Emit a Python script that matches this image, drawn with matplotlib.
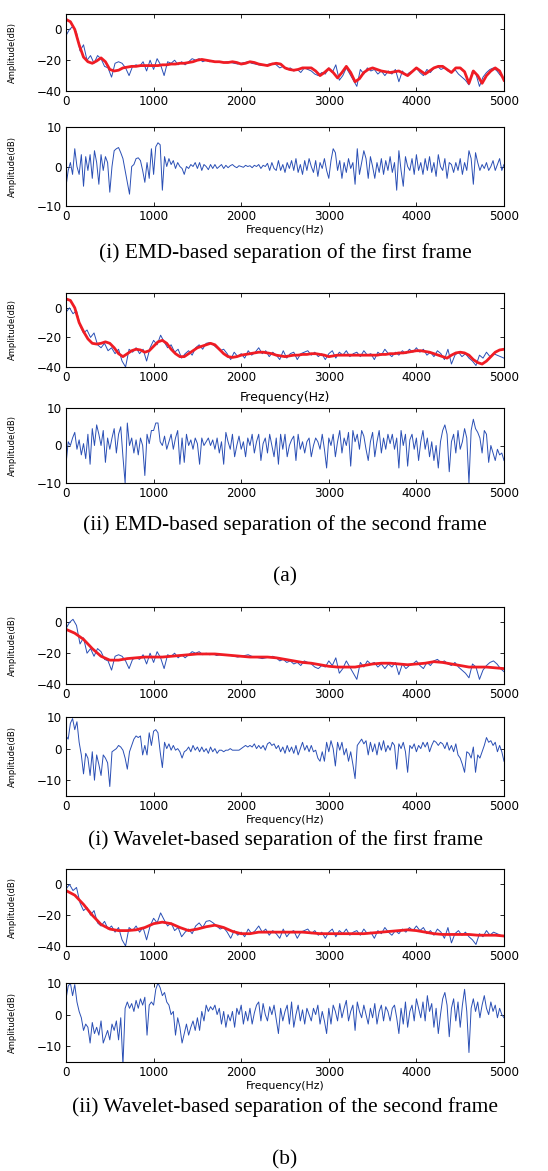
import numpy as np
import matplotlib
matplotlib.use("Agg")
import matplotlib.pyplot as plt

# ---------------- data ----------------
# frame 1 spectrum (dB), 40 Hz spacing 0..5000
spec_frame1 = [-4, 0, 2, -2, -14, -10, -20, -17, -22, -17, -19, -24, -25, -31, -22, -21, -22, -25, -30, -24,
               -23, -24, -21, -27, -20, -26, -19, -23, -30, -21, -22, -20, -23, -21, -23, -21, -19, -20, -19, -21,
               -20, -21, -20.5, -21.5, -21, -21.5, -21, -21.5, -22, -22.5, -22, -21.5, -21, -22, -22.5, -23, -23.5, -23, -22.5, -22,
               -23, -25, -24, -26, -25, -27, -26, -28, -25, -26, -27, -29, -30, -28, -29, -25, -28, -23, -33, -30,
               -25, -29, -33, -37, -26, -29, -25, -27, -26, -29, -27, -30, -27, -29, -26, -34, -27, -30, -28, -27,
               -25, -28, -30, -26, -28, -25, -24, -26, -25, -27, -28, -26, -29, -31, -33, -36, -27, -29, -37, -31,
               -28, -26, -25, -27, -30, -32]
# frame 2 spectrum (dB), 40 Hz spacing 0..5000
spec_frame2 = [-3, 0, -4, -2, -12, -17, -15, -20, -17, -25, -27, -24, -29, -27, -31, -28, -36, -40, -28, -30,
               -27, -31, -28, -36, -27, -22, -25, -18.5, -23, -27, -25, -30, -28, -34, -31, -29, -32, -27, -25, -28,
               -24, -23.5, -25, -27, -29, -28, -31, -35, -30, -33, -31, -34, -29, -32, -30, -27, -31, -29, -33, -30,
               -32, -35, -29, -34, -31, -30, -35, -31, -30, -29, -32, -30, -33, -31, -35, -31, -29, -34, -30, -32,
               -29, -33, -31, -30, -33, -29, -32, -31, -35, -30, -32, -28, -31, -33, -30, -32, -29, -31, -28, -30,
               -27, -30, -28, -32, -30, -33, -29, -31, -35, -28, -38, -32, -30, -33, -31, -34, -36, -39, -32, -34,
               -30, -33, -31, -32, -33, -34]

# EMD envelope, frame 1 (50 Hz spacing)
emd_env1 = [6.5, 5, 0, -10, -18, -21, -22, -20.5, -18.5, -21, -26, -27, -26.5, -25, -24.5, -24, -24, -23.5, -23.5, -23.5,
            -23.5, -23.5, -23, -23, -22.5, -22.5, -22, -22, -21.5, -21, -20, -19.5, -20, -20.5, -21, -21, -21.5, -21.5, -21, -21.5,
            -22.5, -22, -21, -21.5, -22.5, -23, -23.5, -22.5, -22, -22.5, -25, -26, -26.5, -26, -25, -25, -25, -27, -30, -28,
            -25.5, -28, -31.5, -28, -24, -28, -34, -32, -28, -26, -25, -26, -27, -27.5, -28, -27.5, -27, -28.5, -30, -27.5,
            -25, -27, -29, -27, -25, -24, -24, -26, -28, -25, -25, -27.5, -35, -27, -30, -35, -30, -27, -25, -27, -33]
# EMD envelope, frame 2 (50 Hz spacing)
emd_env2 = [6, 5, 0, -10, -16, -21, -24, -24.5, -24, -23, -24, -27, -31, -33, -31, -29, -28, -28.5, -30, -29,
            -26, -23, -22, -24, -28, -31, -33, -33, -31, -29, -27, -26, -25, -24, -25, -28, -31, -33, -33.5, -33,
            -32, -31.5, -31, -30.5, -30, -30, -30.5, -31, -32, -32.5, -33, -32.5, -32, -32, -31.5, -31.5, -31, -31, -31.5, -32,
            -33, -32.5, -32, -32, -32, -32, -32, -32, -32, -32, -32, -32, -31.5, -31.5, -31, -31, -30.5, -30.5, -30, -29.5,
            -29, -29, -29.5, -30, -31, -32, -33, -34, -32, -30.5, -30, -30.5, -32, -35, -37, -38, -36, -33, -30, -28.5, -28]
# Wavelet envelopes (100 Hz spacing)
wav_env1 = [-4.5, -7, -11, -17, -22, -24.5, -24.5, -23.5, -23, -22.5, -22.5, -22.5, -22, -21.5, -21, -20.5, -20.5, -20.5,
            -21, -21.5, -22, -22.5, -22.5, -22.5, -23, -24, -25, -26, -26.5, -27.5, -28.5, -29, -29, -29, -28, -27,
            -26.5, -26.5, -27, -27.5, -27, -26.5, -25.5, -26, -27, -28, -29, -29, -29, -29.5, -30]
wav_env2 = [-4, -7, -13, -20, -26, -29, -30, -30, -29.5, -28, -25.5, -24.5, -25.5, -28, -30, -29, -27.5, -26.5,
            -28, -30.5, -32, -32, -31, -31, -31, -31, -31, -31, -31.5, -32, -32, -32, -32, -32, -32, -31.5,
            -31, -30.5, -30, -29.5, -30, -31, -32, -32.5, -32.5, -32.5, -32.5, -33, -33, -33, -33.5]

# residuals (dB), 25 Hz spacing
emd_res1 = [-5, -1, 1, -2, 4.5, 0, -2, 3, -5, 2.5, -1, 3, -3, 4, 1, -4.5, 3, -1, 2.5, 1,
            -6.5, 0, 4, 4.5, 4.8, 3.5, 2, -1, -4, -7, 0, 0.5, 2, 2.2, 1.5, -1, -4, 1, -3, 4.5,
            -2, 5, 6, 5.5, -6, 2.5, 0, 2, 0.5, 1.5, -0.5, 1, 0, -0.5, -2, 0, -0.5, 0.5, 0, 1,
            -0.5, 1, -1, 0.5, 0, -0.8, 0.5, -0.5, 0.5, -0.5, 0, 0.5, -0.5, 0.3, -0.3, 0.2, 0.5, 0, -0.3, 0.2,
            0, -0.2, 0.3, 0, 0.2, -0.3, 0.3, 0, 0.5, -0.5, 0.3, 0, 0.8, -1, 1, -0.5, -1, 1.5, -1, 0.5,
            -1.5, 1, -0.5, 1.5, -1, 2, -1.5, 0.5, -2, 1.5, -1, 2, 0, -1.5, 1.5, -2.5, 1, -0.5, 2, -1,
            -3, 1.5, 4.5, 3.5, -1, 1.5, -3, 1, -1.5, 2, -0.5, 1, -4.5, 4.5, -2, 1, 4, 2, -3, 2.5,
            0, -3, 1, -1.5, 2, -2, 1.5, -1, 2.5, -1.5, 1, -6, 4, -1, -5, 2.5, 0, -1, 2, -2,
            3, -1, 1, -2, 2, -1, 2.5, -1.5, 1, -2.5, 3, 0, -1, 2, -3, 1, 0.5, -1.5, 1, -1,
            2, -2, 1, -1, 4, 2, -4.5, 3.5, 1, -1, 0.5, -0.5, 1, -1, 0, 1.5, -1, 0.5, 2, -1, 0.5]
emd_res2 = [-5, 1, 0, 2, 3.5, -1, 1.5, -2.5, 0.5, -3.5, 3, -5, 4.5, 0, 5.5, 3, 0, 4, -4.5, 2,
            -1, 2, 4.5, -2, 3, 5, -3, -10, 6, 0, 2, -2, 1.5, -2.5, 2, 0, -8, 3, 0.5, 4,
            4, 6, 6, 1, 0, 2.5, -1, 1, 3, -1, 2, 4, -5, 2, -4.5, 3, 0, 1.5, -1, 2,
            0.5, -5, 2, 0, 1, 2, 0, 1.5, -1, 2, -2, 1, -5, 3.5, 1, -1, 3, -3, 0, 2.5,
            -1, 1, -3, 2, 0, 3, -2, 1, 3, -4, 0.5, 2, -2, 3, 0, -3, 2, -5, 3, -1,
            3, -3, 0, 1.5, 2.5, -4, 3, -1, 1, -2, 1, 2, -3, 0, 2, 1, -1, 3, -1, -6,
            2, 0, 3, -3, 1, 4, -2, 2, 0, 3.5, -5.5, 4, 1, 3, -1, 4, 2.5, -1, -4, 1,
            3.5, -3, 1, 4, -2, 2, -1, 3, 0.5, 3, -1, 2, -6, 4, 0, 3, -5.5, 1.5, 3, -1,
            2, -4, 1, 4, -1, 2, -3, 1, -4, 0, -6, 1, 4, 5.5, 3, -7, 1, 3, -2, 4,
            -1, 1, 4.5, 2, -10, 4, 7, 4.5, 3.5, 2, -2, 4, 3, -4.5, 0, -2, -4, -1, -2.5, -2, -4]
wav_res1 = [4, 3, 8, 9.5, 6, 8.5, 2, -2, -8, -1.5, -3, -8.5, -1, -10, -2, -5, -8.5, -2, -3, -4.5,
            -12, -1, -0.5, 0, 1, 0.5, -0.5, -3, -6.5, -1, 1, 3, 4, 3.5, 4, -2, 1, -2, 5, 1,
            5.5, 6, 5, -1, -6, 2, 0, 1.5, -0.5, 1, -0.5, 0, -1, -3, -1, -0.5, 0.5, -1, 1, -0.5,
            0.5, -1, 0.5, -1, 0, -1.5, 0.5, -1, 0, -1.5, -0.5, -0.5, -1, -0.5, -0.5, 0, -0.5, -0.5, -0.5, -0.5,
            0, 0.5, 1, 0.5, 1, 0.5, 1.5, 0, 1, 0, 1, -0.5, 1.5, 2, 1, 1.5, 0, 1, -1, 0.5,
            -1.5, 1, -1, 0.5, -1.5, 1, -2, 0, 2, -0.5, 1, -1, 1, -1, -0.5, -3, -4, -1, -4, 2,
            -1, 2.5, 0, -5.5, 2, -0.5, 2, -2, 0, -4, -1, -5, -9.5, 1, 2, 3, 1.5, 2.5, -2, 2,
            -1, 1.5, -2, 2, -0.5, 2.5, -1, 1, -0.5, 2, 1, -6.5, 1.5, 0, 2, -1, -7.5, 1, 0, 1.5,
            -1, 1, 0, 2, 0.5, 2, -1, 1, 2.5, 2, 1, 2, 1.5, 0, 2, -0.5, 1, -1, 1.5, -2,
            -3, -5, -7.5, -1, -1.5, -3, 0.5, -7.5, -2, -3, -1, 1, 3.5, 2, 2.5, 1, 2, -1, 1, -1, -4]
wav_res2 = [5, 9, 10, 6, 9.5, 4, 1, -1, -5, -3, -4, -9, -2.5, -6, -4, -6.5, -2, -9, -7, -5,
            -8, -3, -5, -2, -8, -1, -16, 2, 4, 2, 3.5, 1, 4.5, 2, 5, 3, 5.5, -6.5, 3, 4,
            3, 8, 10, 8.5, 6, 7, 4, 3, 0, 1, -6.5, -1, -4, -9, -6, -3, -6.5, -4, -2, -5,
            -1, -5, 1, -2, 3, 1, 2.5, 1.5, 3, 0, 2, -3, 1, -4, 0, -2, 1, -4, 2, 0,
            3, -3, 1, -2, 2, -3, 0.5, 3, 4, -2, 3.5, 0, -2, 2.5, 0, 3, -1.5, -6, 2, -2,
            1, 3, -3, 4, -4, 0, 3, -2, 1.5, -3, 2, 0, -2, 2, 0, 3, -3, 1, -2, -6,
            2, -3, 3, 1, -2, 3.5, -1, 2, 4.5, -2, 1, 3, -5, 4, 1, -1, 3, 0, -3, 2,
            -1, 3.5, -3, 1, 3, -2, 2.5, 1, -2, 2, 3, -1, -6, 2, -3, 4, -4, 1, 3, -2,
            5, 2, -1, 4, -2, 6, 1, 3.5, -4, 2, -6, 0, 5, 7, 3, -7, 2, 5, -2, 4,
            -4, 3, 8, 1, -12, 2, 5, 1, 4, -1, 3, 6, 2, 0, 4, 1, 3, -1, 2, 0, -1]

captions = ["(i) EMD-based separation of the first frame",
            "(ii) EMD-based separation of the second frame",
            "(i) Wavelet-based separation of the first frame",
            "(ii) Wavelet-based separation of the second frame"]
group_labels = ["(a)", "(b)"]
xticks = [0, 1000, 2000, 3000, 4000, 5000]

# ---------------- style ----------------
W, H = 548, 1171
fig = plt.figure(figsize=(W / 100, H / 100), dpi=100)
SANS = ["DejaVu Sans"]
SERIF = ["Liberation Serif", "DejaVu Serif"]
BLUE = "#2a4fb5"
RED = "#f01c24"

left_px, right_px = 66, 504


def style_labels(ax):
    for lab in ax.get_xticklabels() + ax.get_yticklabels():
        lab.set_family(SANS)
        lab.set_fontsize(8.6)


def make_ax(top, bot):
    ax = fig.add_axes([left_px / W, 1 - bot / H, (right_px - left_px) / W, (bot - top) / H])
    ax.set_xlim(0, 5000)
    ax.set_xticks(xticks)
    ax.tick_params(direction="in", top=True, right=True, length=3, width=0.6, pad=3)
    for s in ax.spines.values():
        s.set_linewidth(0.8)
    ax.set_ylabel("Amplitude(dB)", fontsize=6, family=SANS)
    ax.yaxis.set_label_coords(-0.112, 0.5)
    return ax


def fgrid(vals):
    return np.linspace(0, 5000, len(vals))


def spectrum_panel(top, bot, spec, env):
    ax = make_ax(top, bot)
    ax.plot(fgrid(spec), spec, color=BLUE, lw=0.7)
    ax.plot(fgrid(env), env, color=RED, lw=2.0)
    ax.set_ylim(-40, 10)
    ax.set_yticks([-40, -20, 0])
    style_labels(ax)
    return ax


def residual_panel(top, bot, res, ylo):
    ax = make_ax(top, bot)
    ax.plot(fgrid(res), res, color=BLUE, lw=0.7)
    ax.set_ylim(ylo, 10)
    ax.set_yticks([-10, 0, 10])
    style_labels(ax)
    return ax


spectrum_panel(14, 91, spec_frame1, emd_env1)
ax2 = residual_panel(127, 206, emd_res1, -10)
ax2.set_xlabel("Frequency(Hz)", fontsize=7.8, family=SANS, labelpad=1)

ax3 = spectrum_panel(293, 367, spec_frame2, emd_env2)
ax3.set_xlabel("Frequency(Hz)", fontsize=9, family=SANS, labelpad=5)
residual_panel(408, 483, emd_res2, -10)

spectrum_panel(607, 684, spec_frame1, wav_env1)
ax6 = residual_panel(717, 796, wav_res1, -15)
ax6.set_xlabel("Frequency(Hz)", fontsize=7.8, family=SANS, labelpad=1)

spectrum_panel(869, 946, spec_frame2, wav_env2)
ax8 = residual_panel(983, 1062, wav_res2, -15)
ax8.set_xlabel("Frequency(Hz)", fontsize=7.8, family=SANS, labelpad=1)

cx = (left_px + right_px) / 2 / W
for y, txt in zip([253, 525, 840, 1107], captions):
    fig.text(cx, 1 - y / H, txt, ha="center", va="center", fontsize=15.4, family=SERIF)
for y, txt in zip([577, 1160], group_labels):
    fig.text(cx, 1 - y / H, txt, ha="center", va="center", fontsize=15.4, family=SERIF)

fig.savefig("out.png", dpi=100)
